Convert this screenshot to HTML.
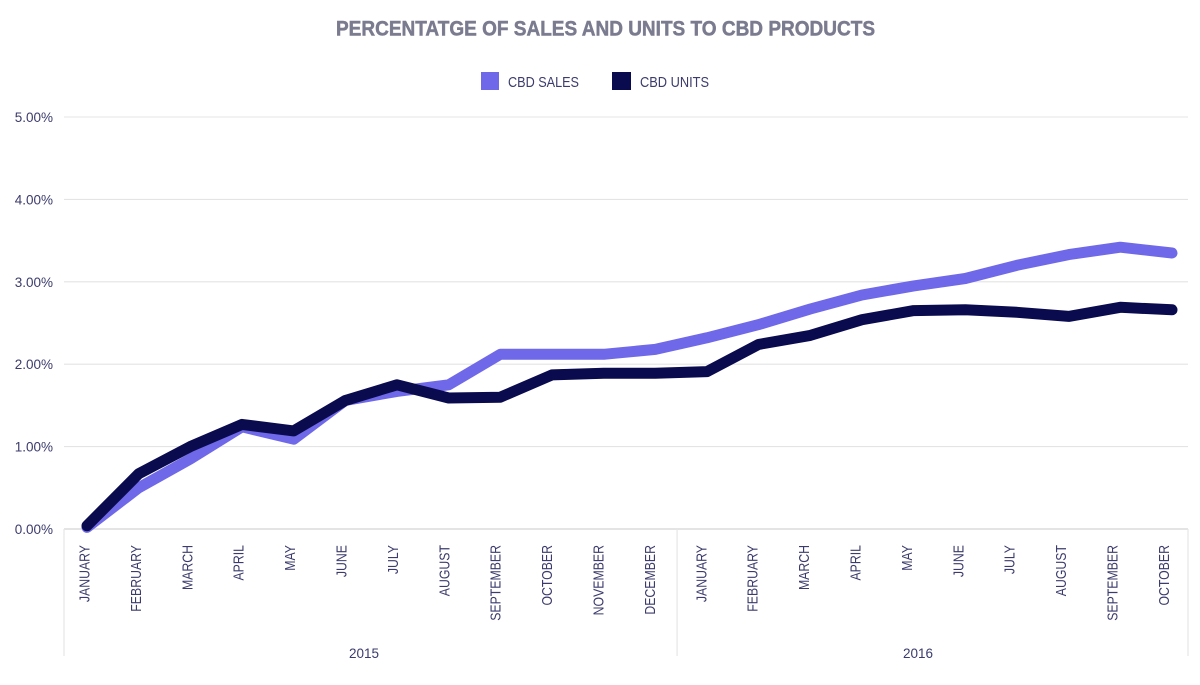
<!DOCTYPE html>
<html lang="en">
<head>
<meta charset="utf-8">
<title>Percentage of sales and units to CBD products</title>
<style>
html,body{margin:0;padding:0;background:#fff;width:1200px;height:685px;overflow:hidden}
svg{display:block;font-family:"Liberation Sans",sans-serif}
</style>
</head>
<body>
<svg id="chart" width="1200" height="685" viewBox="0 0 1200 685">
  <text x="605.5" y="35.5" text-anchor="middle" font-size="21" font-weight="700" fill="#7b7b90" stroke="#7b7b90" stroke-width="0.5" textLength="539" lengthAdjust="spacingAndGlyphs">PERCENTATGE OF SALES AND UNITS TO CBD PRODUCTS</text>
  <g>
    <g>
      <rect x="481" y="72" width="18" height="18" fill="#6f68e8"></rect>
      <text x="508" y="87" font-size="15" fill="#3b3b6d" textLength="71" lengthAdjust="spacingAndGlyphs">CBD SALES</text>
    </g>
    <g>
      <rect x="612" y="72" width="19" height="18" fill="#0a0a4e"></rect>
      <text x="640" y="87" font-size="15" fill="#3b3b6d" textLength="69" lengthAdjust="spacingAndGlyphs">CBD UNITS</text>
    </g>
  </g>
  <g id="grid"></g>
  <g id="yticks"></g>
  <g id="xaxis"></g>
  <g id="series"></g>
</svg>
<script>
const months = ["JANUARY","FEBRUARY","MARCH","APRIL","MAY","JUNE","JULY","AUGUST","SEPTEMBER","OCTOBER","NOVEMBER","DECEMBER","JANUARY","FEBRUARY","MARCH","APRIL","MAY","JUNE","JULY","AUGUST","SEPTEMBER","OCTOBER"];
const years = ["2015","2016"];
const yTicks = [0,1,2,3,4,5];
const cbdSales = [0.02,0.50,0.85,1.24,1.09,1.56,1.67,1.75,2.12,2.12,2.12,2.18,2.32,2.48,2.67,2.84,2.95,3.04,3.20,3.33,3.42,3.35];
const cbdUnits = [0.04,0.67,1.00,1.27,1.19,1.56,1.75,1.59,1.60,1.87,1.89,1.89,1.91,2.24,2.35,2.54,2.65,2.66,2.63,2.58,2.69,2.66];

const NS = "http://www.w3.org/2000/svg";
const yPos = v => 529 - v * 82.4;
const xPos = i => 87 + i * (1085 / (months.length - 1));
const labelX = i => 89.5 + i * 51.4;
const yearX = k => 364 + k * 554;

function make(tag, attrs, parent, text) {
  const el = document.createElementNS(NS, tag);
  for (const k in attrs) el.setAttribute(k, attrs[k]);
  if (text !== undefined) el.textContent = text;
  parent.appendChild(el);
  return el;
}

const grid = document.getElementById("grid");
const yticks = document.getElementById("yticks");
yTicks.forEach(t => {
  const ln = make("line", {x1:64, x2:1188, y1:yPos(t), y2:yPos(t), stroke:t === 0 ? "#dcdcdc" : "#e4e4e4", "stroke-width":t === 0 ? 1.6 : 1.1}, grid);
  
  
  const lb = make("text", {x:53, y:yPos(t) + 5, "text-anchor":"end", "font-size":13.5, fill:"#3b3b6d"}, yticks, t.toFixed(2) + "%");
  
  
});

const xaxis = document.getElementById("xaxis");
const firstYearCount = months.indexOf("DECEMBER") + 1;
const band = (1188 - 64) / months.length;
[0, firstYearCount, months.length].forEach(n => {
  const d = make("line", {x1:64 + n * band, x2:64 + n * band, y1:529, y2:656, stroke:"#e6e6e6", "stroke-width":1.2}, xaxis);
  
  
});
months.forEach((m, i) => {
  const lb = make("text", {transform:`translate(${labelX(i)},545) rotate(-90) scale(0.82,1)`, "text-anchor":"end", "font-size":15, fill:"#3b3b6d"}, xaxis, m);
  
  
});
years.forEach((y, k) => {
  const lb = make("text", {x:yearX(k), y:658, "text-anchor":"middle", "font-size":13.5, fill:"#3b3b6d"}, xaxis, y);
  
  
});

const series = document.getElementById("series");
function linePoints(vals) {
  return vals.map((v, i) => xPos(i).toFixed(1) + "," + yPos(v).toFixed(1)).join(" ");
}
const salesLine = make("polyline", {points:linePoints(cbdSales), fill:"none", stroke:"#6f68e8", "stroke-width":11, "stroke-linecap":"round", "stroke-linejoin":"round"}, series);


const unitsLine = make("polyline", {points:linePoints(cbdUnits), fill:"none", stroke:"#0a0a4e", "stroke-width":11, "stroke-linecap":"round", "stroke-linejoin":"round"}, series);


</script>
</body>
</html>
